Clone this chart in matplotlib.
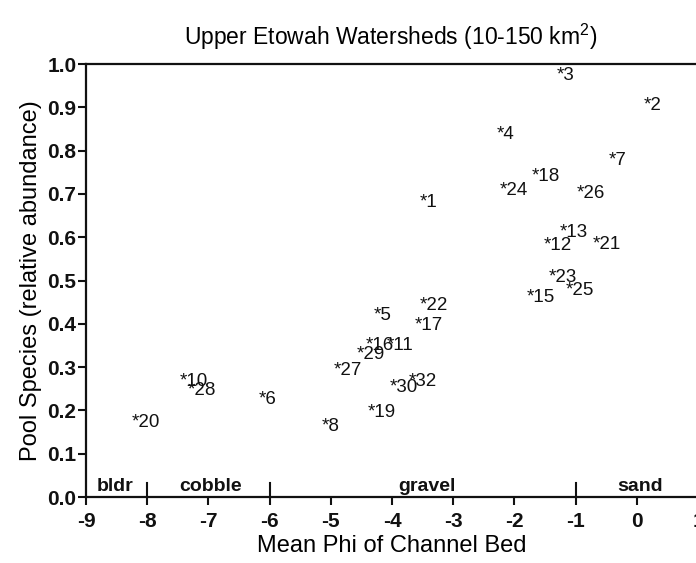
import matplotlib
matplotlib.use("Agg")
import matplotlib.pyplot as plt
from matplotlib.transforms import offset_copy

plt.rcParams['font.family'] = ['Liberation Sans', 'DejaVu Sans']
plt.rcParams['mathtext.fontset'] = 'custom'
plt.rcParams['mathtext.rm'] = 'Liberation Sans'
plt.rcParams['mathtext.it'] = 'Liberation Sans'

# Data: site labels, mean phi (x), pool species relative abundance (y)
labels = ['3', '2', '4', '7', '18', '24', '26', '1', '13', '12', '21', '23', '25',
          '15', '22', '5', '17', '16', '11', '29', '27', '30', '32', '19', '8',
          '6', '10', '28', '20']
phi = [-1.29, 0.12, -2.28, -0.45, -1.71, -2.23, -0.96, -3.53, -1.24, -1.50, -0.70,
       -1.43, -1.14, -1.79, -3.54, -4.28, -3.62, -4.41, -4.07, -4.56, -4.93, -4.03,
       -3.72, -4.38, -5.13, -6.17, -7.46, -7.33, -8.23]
pool = [0.98, 0.91, 0.843, 0.783, 0.748, 0.714, 0.709, 0.686, 0.617, 0.587, 0.589,
        0.513, 0.485, 0.467, 0.450, 0.425, 0.404, 0.358, 0.358, 0.335, 0.298, 0.261,
        0.273, 0.201, 0.169, 0.231, 0.273, 0.252, 0.178]

x_ticks = [-9, -8, -7, -6, -5, -4, -3, -2, -1, 0, 1]
y_ticks = [0.0, 0.1, 0.2, 0.3, 0.4, 0.5, 0.6, 0.7, 0.8, 0.9, 1.0]

size_classes = ['bldr', 'cobble', 'gravel', 'sand']
class_centers = [-8.53, -6.96, -3.43, 0.05]
class_bounds = [-8, -6, -1]

fig = plt.figure(figsize=(6.96, 5.63), dpi=100)
ax = fig.add_axes([0.1236, 0.1172, 0.8794, 0.7691])

label_tr = offset_copy(ax.transData, fig=fig, x=-1, y=-3, units='dots')
for lab, xv, yv in zip(labels, phi, pool):
    ax.text(xv, yv, '*' + lab, fontsize=13.5, ha='left', va='center',
            color='#111111', transform=label_tr)

for b in class_bounds:
    ax.plot([b, b], [0, 0.033], color='#111111', lw=1.5, clip_on=False)
for name, cx in zip(size_classes, class_centers):
    ax.text(cx, 0.004, name, fontsize=14, ha='center', va='bottom',
            color='#111111', fontweight='bold')

ax.set_xlim(-9, 1)
ax.set_ylim(0, 1)
ax.set_xticks(x_ticks)
ax.set_xticklabels([str(v) for v in x_ticks])
ax.set_yticks(y_ticks)
ax.set_yticklabels([f'{v:.1f}' for v in y_ticks])

for s in ['left', 'bottom', 'top']:
    ax.spines[s].set_linewidth(1.6)
    ax.spines[s].set_color('#111111')
ax.spines['right'].set_visible(False)
ax.tick_params(axis='both', direction='out', length=6, width=1.5,
               labelsize=15, colors='#111111')
ax.tick_params(axis='x', pad=5)
ax.tick_params(axis='y', pad=1)
for t in ax.get_yticklabels() + ax.get_xticklabels():
    t.set_fontweight('bold')

ax.set_xlabel('Mean Phi of Channel Bed', fontsize=17, labelpad=3)
ax.set_ylabel('Pool Species (relative abundance)', fontsize=17, labelpad=4)
fig.text(0.562, 0.935, 'Upper Etowah Watersheds (10-150 km$^2$)', fontsize=16.5,
         ha='center', va='center')

fig.savefig('out.png', dpi=100)
